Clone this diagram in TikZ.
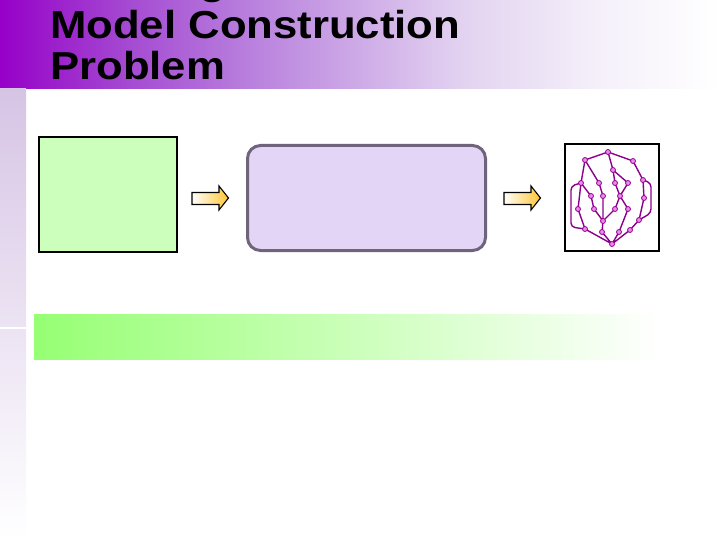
\documentclass[tikz,border=0pt]{standalone}
\usepackage{fontspec}
\setmainfont{Liberation Sans}
\definecolor{tb0}{RGB}{150,0,200}
\definecolor{tb1}{RGB}{165,75,210}
\definecolor{tb2}{RGB}{186,132,222}
\definecolor{tb3}{RGB}{226,210,240}
\definecolor{tb4}{RGB}{245,240,250}
\definecolor{sbTop}{RGB}{214,196,229}
\definecolor{inFill}{RGB}{204,255,187}
\definecolor{procFill}{RGB}{226,213,245}
\definecolor{procDraw}{RGB}{112,100,125}
\definecolor{arrowY}{RGB}{255,198,50}
\definecolor{bandG}{RGB}{150,255,115}
\definecolor{gEdge}{RGB}{140,0,140}
\definecolor{gNodeFill}{RGB}{232,140,232}
\definecolor{gNodeDraw}{RGB}{150,0,150}
\pgfdeclarehorizontalshading{titleshade}{100bp}{color(0bp)=(tb0); color(25bp)=(tb0); color(34bp)=(tb1); color(43bp)=(tb2); color(57bp)=(tb3); color(66.7bp)=(tb4); color(75bp)=(white); color(100bp)=(white)}
\tikzset{
  titletext/.style={anchor=base west, inner sep=0pt, font=\fontsize{39bp}{41bp}\selectfont\bfseries, text=black},
  inbox/.style={draw=black, line width=2bp, fill=inFill, minimum width=138bp, minimum height=115bp, inner sep=0pt},
  procbox/.style={draw=procDraw, line width=3bp, fill=procFill, rounded corners=13bp, minimum width=238bp, minimum height=105bp, inner sep=0pt},
  graphbox/.style={draw=black, line width=2bp, fill=white, minimum width=94bp, minimum height=107bp, inner sep=0pt},
  gn/.style={circle, inner sep=0pt, minimum size=5bp, fill=gNodeFill, draw=gNodeDraw, line width=0.8bp},
  ge/.style={draw=gEdge, line width=1.4bp},
  blockarrow/.style={left color=white, right color=arrowY, draw=black, line width=1.1bp, line join=miter}
}
\begin{document}
\begin{tikzpicture}[x=1bp, y=-1bp]
\useasboundingbox (0,0) rectangle (720,540);
\fill[white] (0,0) rectangle (720,540);
% title bar
\shade[shading=titleshade] (0,0) rectangle (720,89);
% side bar
\shade[top color=sbTop, bottom color=white] (0,89) rectangle (26,540);
\draw[white, line width=1.2bp] (0,328) -- (26,328);
% title text
\node[titletext] (frag) at (199,-5.5) {\scalebox{1.12}[1]{g}};
\node[titletext] (title1) at (50,39) {\scalebox{1.12}[1]{Model Construction}};
\node[titletext] (title2) at (50,80) {\scalebox{1.12}[1]{Problem}};
% boxes
\node[inbox] (input) at (108,194.5) {};
\node[procbox] (proc) at (366.5,198) {};
\node[graphbox] (model) at (612,197.5) {};
% block arrows
\shadedraw[blockarrow] (192,192.5) -- (219,192.5) -- (219,186) -- (228.5,198) -- (219,210) -- (219,204.5) -- (192,204.5) -- cycle;
\shadedraw[blockarrow] (504,192.5) -- (531,192.5) -- (531,186) -- (540.5,198) -- (531,210) -- (531,204.5) -- (504,204.5) -- cycle;
% green band
\shade[left color=bandG, right color=white] (34,314) rectangle (660,359);
% graph edges (drawn first, nodes on top)
\coordinate (A) at (608,152);
\coordinate (B) at (585,160);
\coordinate (C) at (633,161);
\coordinate (D) at (613,170);
\coordinate (E) at (581,183);
\coordinate (F) at (599,183);
\coordinate (G) at (615,183);
\coordinate (H) at (628,183);
\coordinate (I) at (643,180);
\coordinate (J) at (591,196);
\coordinate (K) at (603,196);
\coordinate (L) at (620,196);
\coordinate (M) at (644,198);
\coordinate (N) at (578,209);
\coordinate (O) at (594,209);
\coordinate (P) at (615,209);
\coordinate (Q) at (628,209);
\coordinate (R) at (603,221);
\coordinate (S) at (639,220);
\coordinate (T) at (585,229);
\coordinate (U) at (602,232);
\coordinate (V) at (619,232);
\coordinate (W) at (630,230);
\coordinate (Z) at (612,244);
\path[ge] (A) -- (B) (A) -- (D) (A) -- (C)
  (B) -- (E) (B) -- (F)
  (C) -- (I)
  (D) -- (G) (D) -- (H)
  (E) -- (N) (E) -- (J)
  (F) -- (K)
  (G) -- (L) (H) -- (L)
  (L) -- (P) (L) -- (Q)
  (I) -- (M) (M) -- (S)
  (J) -- (O) (K) -- (R) (O) -- (R) (P) -- (R)
  (N) -- (T) (R) -- (U) (Q) -- (V) (S) -- (W)
  (T) -- (Z) (U) -- (Z) (V) -- (Z) (W) -- (Z);
\path[ge, rounded corners=4bp] (E) -- (571,186) -- (571,227) -- (T);
\path[ge, rounded corners=4bp] (I) -- (651,183) -- (651,213) -- (S);
% graph nodes
\foreach \p in {A,B,C,D,E,F,G,H,I,J,K,L,M,N,O,P,Q,R,S,T,U,V,W,Z}
  \node[gn] (n\p) at (\p) {};
\end{tikzpicture}
\end{document}
